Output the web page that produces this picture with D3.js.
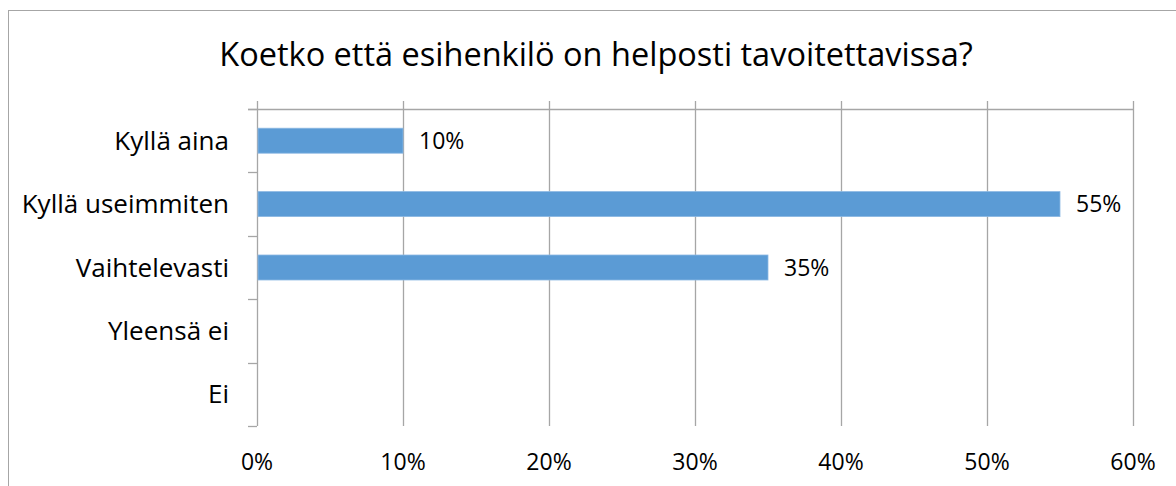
<html>
<head>
<meta charset="utf-8">
<script src="https://cdn.jsdelivr.net/npm/d3@7"></script>
<style>
  body { margin: 0; background: #fff; }
  text { font-family: "Open Sans", "Noto Sans", sans-serif; fill: #000; }
</style>
</head>
<body>
<svg id="chart" width="1176" height="486"></svg>
<script>
(function(){

	var categories = ["Kyllä aina", "Kyllä useimmiten", "Vaihtelevasti", "Yleensä ei", "Ei"];
	var values = [0.10, 0.55, 0.35, 0, 0];
	var xTicks = [0, 0.1, 0.2, 0.3, 0.4, 0.5, 0.6];
	var title = "Koetko että esihenkilö on helposti tavoitettavissa?";

	var svg = d3.select("#chart");
	var gridColor = "#a6a6a6";

	// chart frame
	svg.append("rect")
		.attr("x", 8.5).attr("y", 10.5)
		.attr("width", 1200).attr("height", 500)
		.style("fill", "none")
		.style("stroke", gridColor)
		.style("stroke-width", 1);

	svg.append("text")
		.attr("x", 596).attr("y", 66)
		.attr("text-anchor", "middle")
		.style("font-size", "32.5px")
		.text(title);

	var x = d3.scaleLinear().domain([0, 0.6]).range([257, 1133]);
	var band = d3.scaleBand().domain(categories).range([109, 426]);

	// vertical gridlines (with the top tick marks)
	svg.selectAll(".grid").data(xTicks).enter().append("line")
		.attr("class", "grid")
		.attr("x1", function(d){ return Math.round(x(d)) + 0.5; })
		.attr("x2", function(d){ return Math.round(x(d)) + 0.5; })
		.attr("y1", 101).attr("y2", 426)
		.style("stroke", gridColor).style("stroke-width", 1.3);

	// top axis line
	svg.append("line")
		.attr("x1", 248).attr("x2", x(0.6) + 0.5)
		.attr("y1", 109.5).attr("y2", 109.5)
		.style("stroke", gridColor).style("stroke-width", 1.3);

	// category tick marks
	var tickYs = categories.map(function(c){ return band(c); }).concat([426]);
	svg.selectAll(".ctick").data(tickYs).enter().append("line")
		.attr("class", "ctick")
		.attr("x1", 248).attr("x2", 257)
		.attr("y1", function(d){ return Math.round(d) + 0.5; })
		.attr("y2", function(d){ return Math.round(d) + 0.5; })
		.style("stroke", gridColor).style("stroke-width", 1.3);

	// bars
	svg.selectAll(".bar").data(values).enter().append("rect")
		.attr("class", "bar")
		.attr("x", x(0) + 1)
		.attr("y", function(d, i){ return band(categories[i]) + band.bandwidth() / 2 - 12.5; })
		.attr("width", function(d){ return Math.max(0, x(d) - x(0) - 1); })
		.attr("height", function(d){ return d > 0 ? 25 : 0; })
		.style("fill", "#5b9bd5")
		.style("stroke", "#8db8e3")
		.style("stroke-width", 0.8);

	// value labels
	svg.selectAll(".vlabel").data(values.filter(function(d){ return d > 0; })).enter().append("text")
		.attr("class", "vlabel")
		.attr("x", function(d){ return x(d) + 16; })
		.attr("y", function(d){ var i = values.indexOf(d); return band(categories[i]) + band.bandwidth() / 2; })
		.attr("dy", "0.35em")
		.style("font-size", "23px")
		.text(function(d){ return Math.round(d * 100) + "%"; });

	// category labels
	svg.selectAll(".clabel").data(categories).enter().append("text")
		.attr("class", "clabel")
		.attr("x", 229)
		.attr("y", function(d){ return band(d) + band.bandwidth() / 2; })
		.attr("dy", "0.35em")
		.attr("text-anchor", "end")
		.style("font-size", "26px")
		.text(function(d){ return d; });

	// x tick labels
	svg.selectAll(".xlabel").data(xTicks).enter().append("text")
		.attr("class", "xlabel")
		.attr("x", function(d){ return x(d); })
		.attr("y", 462)
		.attr("dy", "0.35em")
		.attr("text-anchor", "middle")
		.style("font-size", "23px")
		.text(d3.format(".0%"));

})();
</script>
</body>
</html>
